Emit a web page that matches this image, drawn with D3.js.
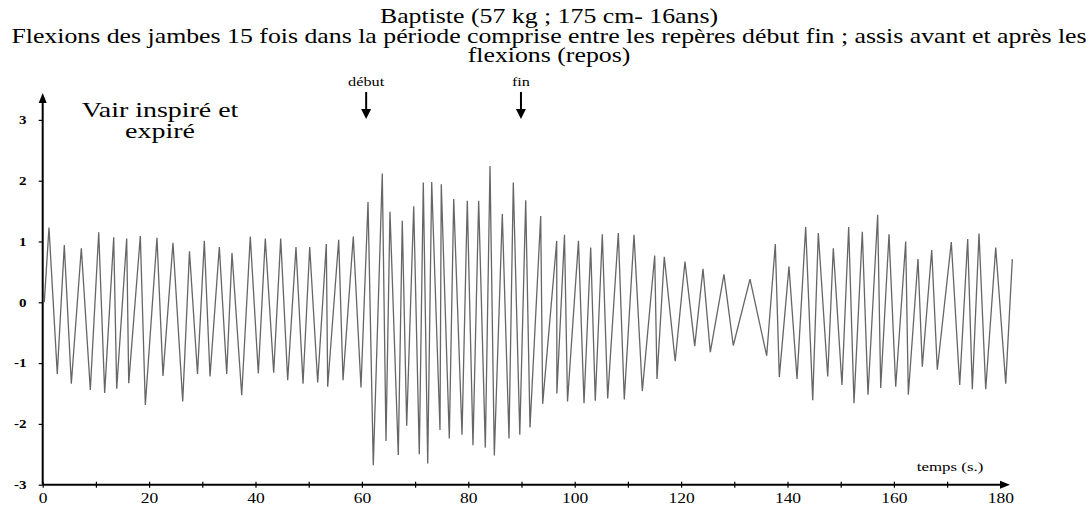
<!DOCTYPE html>
<html>
<head>
<meta charset="utf-8">
<script src="https://cdn.jsdelivr.net/npm/d3@7"></script>
<style>
body { margin: 0; background: #fff; }
text { font-family: "Liberation Serif", "Times New Roman", serif; fill: #000; }
</style>
</head>
<body>
<script>
// temps (s.) et volume d'air
const times = [0.3, 1.18, 2.74, 4.06, 5.38, 7.26, 8.95, 10.53, 11.65, 13.35, 13.91, 15.79, 16.17, 18.35, 19.29,
    21.48, 22.61, 24.49, 26.32, 27.59, 29.10, 30.38, 31.45, 33.20, 34.59, 35.58, 37.41, 39.02, 40.53, 41.84,
    43.42, 44.74, 46.05, 47.61, 48.93, 50.19, 51.69, 53.31, 53.57, 55.64, 56.45, 58.38, 59.83, 61.15, 62.14,
    63.83, 64.53, 65.28, 66.84, 67.59, 68.42, 69.74, 70.79, 71.54, 72.37, 73.12, 74.68, 74.92, 76.43, 77.26,
    78.82, 79.81, 80.88, 81.95, 83.20, 84.08, 84.89, 86.39, 87.65, 88.46, 89.68, 90.79, 91.60, 93.61, 93.98,
    96.62, 96.65, 98.08, 98.65, 100.71, 101.75, 103.01, 103.87, 105.19, 106.20, 108.20, 109.32, 111.15, 112.71,
    115.04, 115.47, 116.84, 118.89, 120.73, 122.56, 124.12, 125.49, 128.06, 129.81, 132.95, 136.09, 137.71,
    138.46, 140.28, 141.79, 143.42, 144.74, 145.79, 147.56, 148.61, 150.24, 151.50, 152.50, 154.06, 155.13,
    156.95, 157.52, 159.08, 160.34, 162.22, 162.71, 164.53, 165.34, 167.11, 168.16, 170.79, 172.37, 173.87,
    174.74, 176.00, 177.26, 179.14, 181.02, 182.26];
const values = [0, 1.23, -1.18, 0.94, -1.34, 0.89, -1.44, 1.15, -1.49, 1.07, -1.42, 1.05, -1.33, 1.09, -1.69,
    1.06, -1.21, 0.98, -1.63, 0.84, -1.18, 1.01, -1.22, 0.91, -1.18, 0.81, -1.53, 1.08, -1.17, 1.05,
    -1.16, 1.05, -1.28, 0.91, -1.34, 0.91, -1.32, 0.96, -1.39, 1.03, -1.28, 1.08, -1.40, 1.65, -2.68,
    2.12, -2.28, 1.49, -2.51, 1.34, -2.03, 1.58, -2.50, 1.97, -2.65, 1.98, -2.10, 1.94, -2.24, 1.70,
    -2.18, 1.67, -2.35, 1.67, -2.39, 2.24, -2.52, 1.45, -2.24, 1.97, -2.18, 1.68, -2.06, 1.42, -1.67,
    1.01, -1.50, 1.11, -1.63, 1.01, -1.66, 0.90, -1.62, 1.12, -1.58, 1.14, -1.60, 1.11, -1.46,
    0.77, -1.26, 0.75, -0.97, 0.67, -0.72, 0.55, -0.82, 0.46, -0.71, 0.38, -0.88, 0.96,
    -1.23, 0.59, -1.26, 1.24, -1.61, 1.14, -1.22, 0.89, -1.36, 1.24, -1.66, 1.16, -1.52,
    1.44, -1.41, 1.12, -1.39, 1.00, -1.52, 0.71, -1.06, 0.86, -1.11, 0.99, -1.36, 1.04,
    -1.43, 1.13, -1.43, 0.90, -1.34, 0.71];

const xTicks = d3.range(0, 181, 10);
const yTicks = [-3, -2, -1, 0, 1, 2, 3];
const titleLines = [
    "Baptiste (57 kg ; 175 cm- 16ans)",
    "Flexions des jambes 15 fois dans la période comprise entre les repères début fin ; assis avant et après les",
    "flexions (repos)"
];
const markerNames = ["début", "fin"];
const markerTimes = [60.8, 89.9];

const width = 1091, height = 505;
// the scanned chart is wider than plain Times: stretch glyphs horizontally
const stretch = 1.25;

const svg = d3.select("body").append("svg")
    .attr("width", width)
    .attr("height", height);

const x = d3.scaleLinear().domain([0, 180]).range([42.7, 1000.3]);
const y = d3.scaleLinear().domain([-3, 3]).range([484.7, 119.9]);

function label(px, py, txt, size, sx = stretch) {
    return svg.append("text")
        .attr("transform", `translate(${px},${py}) scale(${sx},1)`)
        .attr("text-anchor", "middle")
        .attr("font-size", size)
        .text(txt);
}

// titre
titleLines.forEach((t, i) => label(549, 23 + i * 19.5, t, 20, 1.29));

// axe des x
const xAxis = svg.append("g")
    .attr("transform", `translate(0,${y(-3)})`)
    .call(d3.axisBottom(x).tickValues(xTicks)
        .tickFormat(d => d % 20 === 0 ? d : "")
        .tickSizeInner(3).tickSizeOuter(0).tickPadding(5));
xAxis.select(".domain").remove();
xAxis.selectAll(".tick line").attr("y1", -3).attr("y2", 3).attr("stroke-width", 1.2);
xAxis.selectAll(".tick text")
    .attr("font-family", "Liberation Serif, serif")
    .attr("font-size", 14).attr("fill", "#000")
    .attr("transform", `scale(${stretch},1)`);

// axe des y
const yAxis = svg.append("g")
    .attr("transform", `translate(${x(0)},0)`)
    .call(d3.axisLeft(y).tickValues(yTicks).tickFormat(d => String(d))
        .tickSizeInner(4).tickSizeOuter(0).tickPadding(9));
yAxis.select(".domain").remove();
yAxis.selectAll(".tick line").attr("stroke-width", 1.2);
yAxis.selectAll(".tick text")
    .attr("font-family", "Liberation Serif, serif")
    .attr("font-size", 12).attr("font-weight", "bold").attr("fill", "#000")
    .attr("transform", `scale(${stretch},1)`);

// lignes des axes avec flèches
svg.append("line")
    .attr("x1", x(0)).attr("x2", 1003)
    .attr("y1", y(-3)).attr("y2", y(-3))
    .attr("stroke", "#000").attr("stroke-width", 2);
svg.append("path")
    .attr("d", `M1010,${y(-3)} L1000,${y(-3) - 4} L1000,${y(-3) + 4} Z`)
    .attr("fill", "#000");
svg.append("line")
    .attr("x1", x(0)).attr("x2", x(0))
    .attr("y1", y(-3)).attr("y2", 100)
    .attr("stroke", "#000").attr("stroke-width", 2);
svg.append("path")
    .attr("d", `M${x(0)},93 L${x(0) - 4},103 L${x(0) + 4},103 Z`)
    .attr("fill", "#000");

// courbe
const line = d3.line()
    .x(d => x(d[0]))
    .y(d => y(d[1]));

svg.append("path")
    .attr("d", line(d3.zip(times, values)))
    .attr("fill", "none")
    .attr("stroke", "#666")
    .attr("stroke-width", 1.3);

// repères début / fin
d3.zip(markerNames, markerTimes).forEach(([name, t]) => {
    label(x(t), 86, name, 12.5, 1.3);
    svg.append("line")
        .attr("x1", x(t)).attr("x2", x(t))
        .attr("y1", 92).attr("y2", 112)
        .attr("stroke", "#000").attr("stroke-width", 2);
    svg.append("path")
        .attr("d", `M${x(t)},119 L${x(t) - 5},109 L${x(t) + 5},109 Z`)
        .attr("fill", "#000");
});

// légendes
label(160, 117, "Vair inspiré et", 21.5, 1.3);
label(160, 138, "expiré", 21.5, 1.3);
label(950, 471, "temps (s.)", 13, 1.3);
</script>
</body>
</html>
